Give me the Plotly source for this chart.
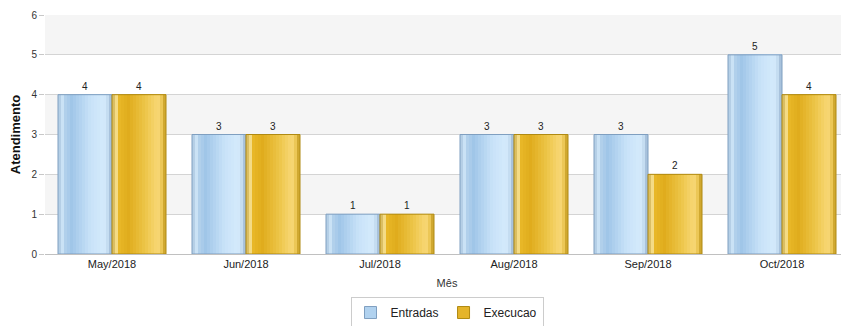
import plotly.graph_objects as go

months = ["May/2018", "Jun/2018", "Jul/2018", "Aug/2018", "Sep/2018", "Oct/2018"]
entradas = [4, 3, 1, 3, 3, 5]
execucao = [4, 3, 1, 3, 2, 4]

def lerp(c1, c2, t):
    return tuple(int(round(a + (b - a) * t)) for a, b in zip(c1, c2))

def grad(stops, t):
    for (p1, c1), (p2, c2) in zip(stops, stops[1:]):
        if p1 <= t <= p2:
            return lerp(c1, c2, (t - p1) / (p2 - p1) if p2 > p1 else 0)
    return stops[-1][1]

blue_stops = [(0.0, (150, 182, 212)), (0.06, (216, 236, 250)), (0.12, (180, 210, 236)),
              (0.25, (160, 198, 232)), (0.6, (200, 226, 248)), (0.85, (212, 234, 252)),
              (0.95, (190, 214, 236)), (1.0, (140, 170, 200))]
gold_stops = [(0.0, (190, 150, 30)), (0.06, (250, 236, 180)), (0.13, (232, 184, 40)),
              (0.3, (224, 172, 28)), (0.6, (236, 196, 70)), (0.85, (248, 216, 118)),
              (0.95, (230, 190, 70)), (1.0, (180, 140, 20))]

bw = 0.403
N = 18
fig = go.Figure()

series = [("Entradas", entradas, -bw, blue_stops, "#7f9fc0"),
          ("Execucao", execucao, 0.0, gold_stops, "#b08a12")]

for name, vals, off0, stops, edge in series:
    sw = bw / N
    for i in range(N):
        t = (i + 0.5) / N
        c = "rgb(%d,%d,%d)" % grad(stops, t)
        w = (bw - i * sw)
        fig.add_trace(go.Bar(
            x=months, y=vals, name=name, legendgroup=name,
            showlegend=False, offset=off0 + i * sw, width=w,
            marker=dict(color=c, line=dict(width=0)), hoverinfo="skip"))
    mid = "rgb(%d,%d,%d)" % grad(stops, 0.4)
    fig.add_trace(go.Bar(
        x=months, y=vals, name=name, legendgroup=name, showlegend=False,
        offset=off0, width=bw,
        marker=dict(color="rgba(0,0,0,0)", line=dict(color=edge, width=1)),
        text=[str(v) for v in vals], textposition="outside",
        textfont=dict(size=10, color="#222", family="Liberation Sans, Arial"),
        cliponaxis=False))
    fig.add_trace(go.Bar(
        x=[None], y=[None], name=name, legendgroup=name, showlegend=True,
        marker=dict(color=mid, line=dict(color=edge, width=1))))

bands = []
for k in range(1, 6, 2):
    bands.append(dict(type="rect", xref="paper", yref="y", x0=0, x1=1, y0=k, y1=k + 1,
                      fillcolor="#f5f5f5", line=dict(width=0), layer="below"))

# page body has an 8px default margin, so the figure is sized to fit the window
fig.update_layout(
    width=841, height=318,
    margin=dict(l=37, r=0, t=7, b=72, autoexpand=False),
    barmode="overlay",
    plot_bgcolor="white", paper_bgcolor="white",
    font=dict(family="Liberation Sans, Arial", size=10, color="#333"),
    shapes=bands,
    showlegend=True,
    legend=dict(orientation="h", x=0.5, xanchor="center", y=-0.18, yanchor="top",
                bordercolor="#cccccc", borderwidth=1, bgcolor="white",
                font=dict(size=12, color="#222"), itemwidth=30,
                tracegroupgap=0),
    xaxis=dict(title=dict(text="Mês", font=dict(size=11, color="#333"), standoff=10),
               showgrid=False, showline=True, linecolor="#c0c0c0", linewidth=1,
               ticks="", tickfont=dict(size=11, color="#222"), automargin=False),
    yaxis=dict(title=dict(text="<b>Atendimento</b>", font=dict(size=13, color="#111"), standoff=9),
               range=[0, 6], dtick=1, showgrid=True, gridcolor="#d4d4d4", gridwidth=1,
               zeroline=False, ticks="outside", ticklen=5, tickcolor="#c8c8c8",
               tickfont=dict(size=10, color="#333"), fixedrange=True, automargin=False),
)

fig.write_html("out.html")
